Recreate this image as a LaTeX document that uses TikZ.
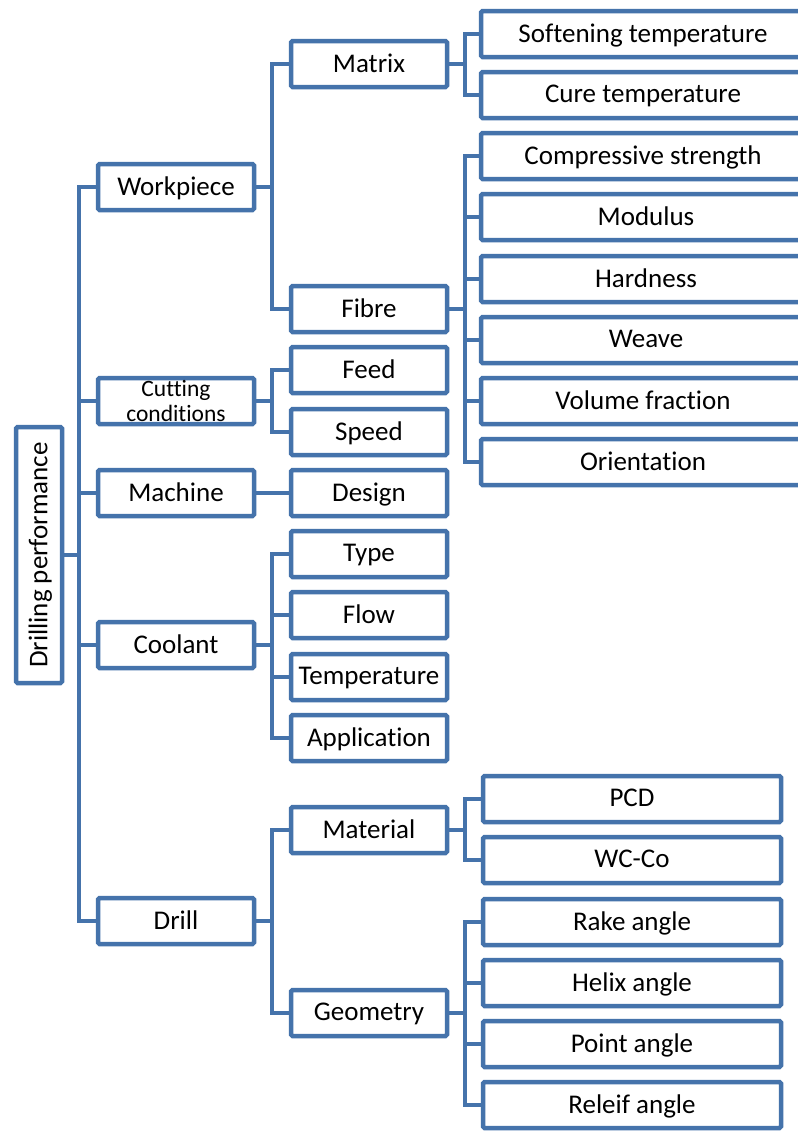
\documentclass[tikz,border=0pt]{standalone}
\usepackage{fontspec}
\setmainfont{Carlito}[Ligatures=NoCommon]
\definecolor{bl}{HTML}{4573AB}
\begin{document}
\begin{tikzpicture}[x=1pt,y=-1pt,
  bx/.style={draw=bl,line width=4.5pt,rounded corners=1.5pt,fill=white,minimum height=46pt,inner sep=0pt,font=\fontsize{27}{30}\selectfont,text=black,text depth=2pt},
  la/.style={bx,minimum width=156pt},
  lc/.style={bx,minimum width=298pt},
  lt/.style={bx,minimum width=330pt},
  cn/.style={draw=bl,line width=4.5pt}]
\clip (0,0) rectangle (798,1133);
\fill[white] (0,0) rectangle (798,1133);
% root
\node[bx,minimum width=256pt,minimum height=46pt,rotate=90] (root) at (39,555) {Drilling performance};
% level 1
\node[la] (wp) at (176,187) {Workpiece};
\node[la,font=\fontsize{23.5}{24.5}\selectfont,align=center,text depth=] (cc) at (176,401) {Cutting\\conditions};
\node[la] (ma) at (176,493) {Machine};
\node[la] (co) at (176,645) {Coolant};
\node[la] (dr) at (176,921) {Drill};
% level 2
\node[la] (mx) at (369,64) {Matrix};
\node[la] (fi) at (369,309) {Fibre};
\node[la] (fe) at (369,370) {Feed};
\node[la] (sp) at (369,432) {Speed};
\node[la] (de) at (369,493) {Design};
\node[la] (ty) at (369,554) {Type};
\node[la] (fl) at (369,615) {Flow};
\node[la] (te) at (369,677) {Temperature};
\node[la] (ap) at (369,738) {Application};
\node[la] (mt) at (369,830) {Material};
\node[la] (ge) at (369,1013) {Geometry};
% level 3
\node[lt] (so) at (646,34) {Softening temperature\hspace*{6pt}};
\node[lt] (cu) at (646,95) {Cure temperature\hspace*{6pt}};
\node[lt] (cs) at (646,156) {Compressive strength\hspace*{6pt}};
\node[lt] (mo) at (646,217) {Modulus};
\node[lt] (ha) at (646,279) {Hardness};
\node[lt] (we) at (646,340) {Weave};
\node[lt] (vf) at (646,401) {Volume fraction\hspace*{6pt}};
\node[lt] (or) at (646,462) {Orientation\hspace*{6pt}};
\node[lc] (pc) at (632,799) {PCD};
\node[lc] (wc) at (632,860) {WC-Co};
\node[lc] (ra) at (632,922) {Rake angle};
\node[lc] (he) at (632,983) {Helix angle};
\node[lc] (pa) at (632,1044) {Point angle};
\node[lc] (re) at (632,1105) {Releif angle};
% bracket x positions
\coordinate (b0) at (79,0);
\coordinate (b1) at (272,0);
\coordinate (b2) at (465,0);
% level 0 -> 1
\draw[cn] (root.south) -- (b0 |- root.south);
\draw[cn] (wp.west) -| (b0 |- dr.west) -- (dr.west);
\draw[cn] (cc.west) -- (b0 |- cc.west);
\draw[cn] (ma.west) -- (b0 |- ma.west);
\draw[cn] (co.west) -- (b0 |- co.west);
% level 1 -> 2
\draw[cn] (wp.east) -- (b1 |- wp.east);
\draw[cn] (mx.west) -| (b1 |- fi.west) -- (fi.west);
\draw[cn] (cc.east) -- (b1 |- cc.east);
\draw[cn] (fe.west) -| (b1 |- sp.west) -- (sp.west);
\draw[cn] (ma.east) -- (de.west);
\draw[cn] (co.east) -- (b1 |- co.east);
\draw[cn] (ty.west) -| (b1 |- ap.west) -- (ap.west);
\draw[cn] (te.west) -- (b1 |- te.west);
\draw[cn] (fl.west) -- (b1 |- fl.west);
\draw[cn] (dr.east) -- (b1 |- dr.east);
\draw[cn] (mt.west) -| (b1 |- ge.west) -- (ge.west);
% level 2 -> 3
\draw[cn] (mx.east) -- (b2 |- mx.east);
\draw[cn] (so.west) -| (b2 |- cu.west) -- (cu.west);
\draw[cn] (fi.east) -- (b2 |- fi.east);
\draw[cn] (cs.west) -| (b2 |- or.west) -- (or.west);
\foreach \n in {mo,ha,we,vf} \draw[cn] (\n.west) -- (b2 |- \n.west);
\draw[cn] (mt.east) -- (b2 |- mt.east);
\draw[cn] (pc.west) -| (b2 |- wc.west) -- (wc.west);
\draw[cn] (ge.east) -- (b2 |- ge.east);
\draw[cn] (ra.west) -| (b2 |- re.west) -- (re.west);
\foreach \n in {he,pa} \draw[cn] (\n.west) -- (b2 |- \n.west);
\end{tikzpicture}
\end{document}
